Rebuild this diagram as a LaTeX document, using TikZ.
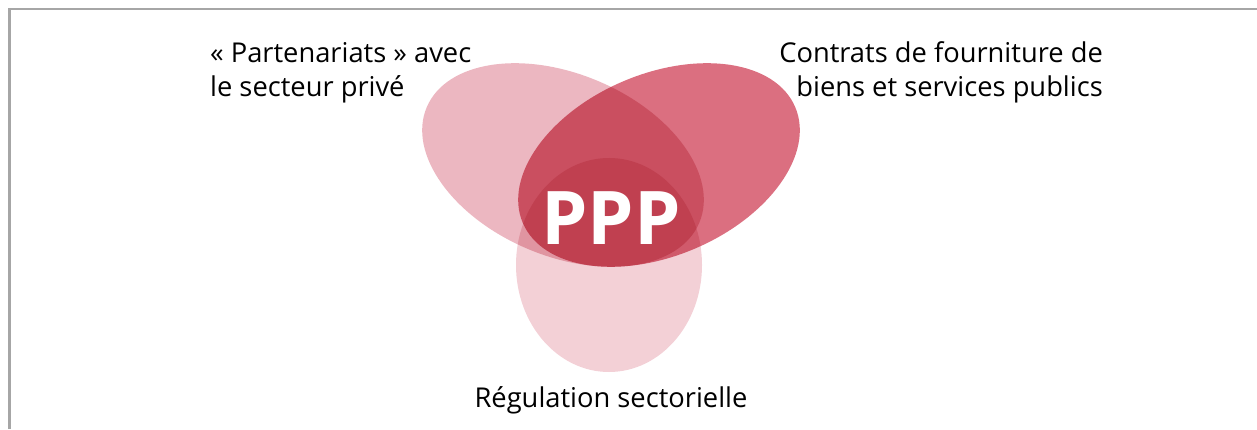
\documentclass[tikz,border=0pt]{standalone}
\usepackage{fontspec}
\setmainfont{Open Sans}
\definecolor{leftpink}{HTML}{ECB7C1}
\definecolor{rightred}{HTML}{DB6F80}
\definecolor{lowpink}{HTML}{F3D0D6}
\definecolor{framegray}{HTML}{A6A6A6}
\tikzset{
  lbltext/.style={font=\fontsize{27.3}{34}\selectfont,inner sep=0pt},
  blob/.style={blend mode=multiply},
}
\begin{document}
\begin{tikzpicture}[x=1pt,y=1pt]
  \useasboundingbox (0,0) rectangle (1257,429);
  % frame
  \draw[framegray,line width=2.5pt] (9.5,0) -- (9.5,420) -- (1257,420);
  % the three sets
  \fill[leftpink,blob] (563,264) ellipse[x radius=148,y radius=91,rotate=-23];
  \fill[rightred,blob] (659,264) ellipse[x radius=148,y radius=91,rotate=23];
  \fill[lowpink,blob] (609,164) ellipse[x radius=93,y radius=107];
  % labels (base = last line)
  \node[lbltext,anchor=base west,align=left] (partner) at (210,332)
    {« Partenariats » avec\\le secteur privé};
  \node[lbltext,anchor=base east,align=right] (contract) at (1103,332)
    {Contrats de fourniture de\\biens et services publics};
  \node[lbltext,anchor=base] (regul) at (611,22) {Régulation sectorielle};
  \node[font=\fontsize{74}{74}\selectfont\bfseries,text=white,inner sep=0pt] (ppp) at (611,210.5) {PPP};
\end{tikzpicture}
\end{document}
